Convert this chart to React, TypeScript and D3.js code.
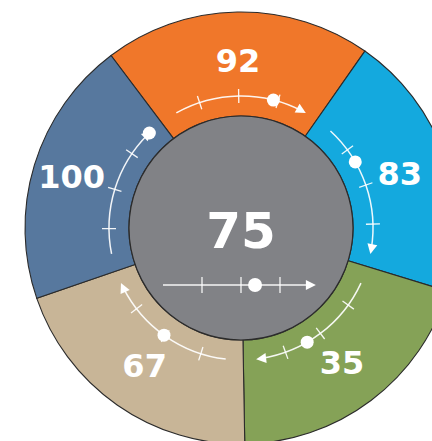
import React from 'react';
import * as d3 from 'd3';

// segment order: clockwise starting at the top
const segmentValues = [92, 83, 35, 67, 100];
const segmentColors = ['#F0772A', '#14A9DE', '#85A257', '#C8B597', '#57789E'];
const gaugeDots = [72, 34, 60, 51, 92];
const gaugeTicks = [25, 50, 75];
const gaugeRange = [9, 94];
const centerValue = 75;
const centerDot = 59;
const centerRange = [0, 98];

const W = 432;
const H = 441;
const cx = 241;
const cy = 228;
const outerR = 216;
const innerR = 112;
const trackR = 132;
const deg = Math.PI / 180;

const polar = (a: number, r: number): [number, number] => [cx + r * Math.sin(a), cy - r * Math.cos(a)];

const App = () => {
  const pie = d3.pie<number>()
    .value(() => 1)
    .sort(null)
    .startAngle(-37 * deg)
    .endAngle(323 * deg);
  const slices = pie(segmentValues);

  const arc = d3.arc<d3.PieArcDatum<number>>()
    .innerRadius(innerR)
    .outerRadius(outerR);

  const line = 'rgba(255,255,255,0.92)';

  const centerX = d3.scaleLinear().domain([0, 100]).range([cx - 78, cx + 78]);
  const centerY = cy + 57;

  return (
    <svg width={W} height={H} style={{ position: 'absolute', left: 0, top: 0 }}>
      <g>
        {slices.map((s, i) => (
          <path key={i} d={arc(s) || ''} transform={`translate(${cx},${cy})`}
            fill={segmentColors[i]} stroke="#2b2b2b" strokeWidth={1.1} />
        ))}
      </g>
      <circle cx={cx} cy={cy} r={innerR} fill="#818286" stroke="#2b2b2b" strokeWidth={1.2} />

      {slices.map((s, i) => {
        const mid = (s.startAngle + s.endAngle) / 2;
        const span = (s.endAngle - s.startAngle) * 0.96;
        const a = d3.scaleLinear().domain([0, 100]).range([mid - span / 2, mid + span / 2]);
        const p = d3.path();
        p.arc(cx, cy, trackR, a(gaugeRange[0]) - Math.PI / 2, a(gaugeRange[1]) - Math.PI / 2 - 2 * deg);
        const tipA = a(gaugeRange[1]);
        const [tx, ty] = polar(tipA, trackR);
        const [dx, dy] = polar(a(gaugeDots[i]), trackR);
        // wider labels sit a bit further out
        const labelR = 150 + 9 * String(segmentValues[i]).length;
        const [lx, ly] = polar(mid, labelR);
        return (
          <g key={i}>
            <path d={p.toString()} fill="none" stroke={line} strokeWidth={1.5} />
            {gaugeTicks.map(t => {
              const [x1, y1] = polar(a(t), trackR - 7);
              const [x2, y2] = polar(a(t), trackR + 7);
              return <line key={t} x1={x1} y1={y1} x2={x2} y2={y2} stroke={line} strokeWidth={1.3} />;
            })}
            <path d="M0,0L-10,-5L-10,5Z" fill="#fff"
              transform={`translate(${tx},${ty}) rotate(${(tipA * 180) / Math.PI})`} />
            <circle cx={dx} cy={dy} r={6.5} fill="#fff" />
            <text x={lx} y={ly} dy="0.36em" textAnchor="middle" fill="#fff"
              fontFamily="'DejaVu Sans', Verdana, sans-serif" fontWeight="bold" fontSize={32}>
              {segmentValues[i]}
            </text>
          </g>
        );
      })}

      <text x={cx} y={cy + 20} textAnchor="middle" fill="#fff"
        fontFamily="'DejaVu Sans', Verdana, sans-serif" fontWeight="bold" fontSize={50}>
        {centerValue}
      </text>

      <g>
        <line x1={centerX(centerRange[0])} y1={centerY} x2={centerX(centerRange[1]) - 6} y2={centerY}
          stroke={line} strokeWidth={1.5} />
        {gaugeTicks.map(t => (
          <line key={t} x1={centerX(t)} x2={centerX(t)} y1={centerY - 8} y2={centerY + 8}
            stroke={line} strokeWidth={1.3} />
        ))}
        <path d="M0,0L-10,-5L-10,5Z" fill="#fff"
          transform={`translate(${centerX(centerRange[1])},${centerY})`} />
        <circle cx={centerX(centerDot)} cy={centerY} r={7} fill="#fff" />
      </g>
    </svg>
  );
};

export default App;
